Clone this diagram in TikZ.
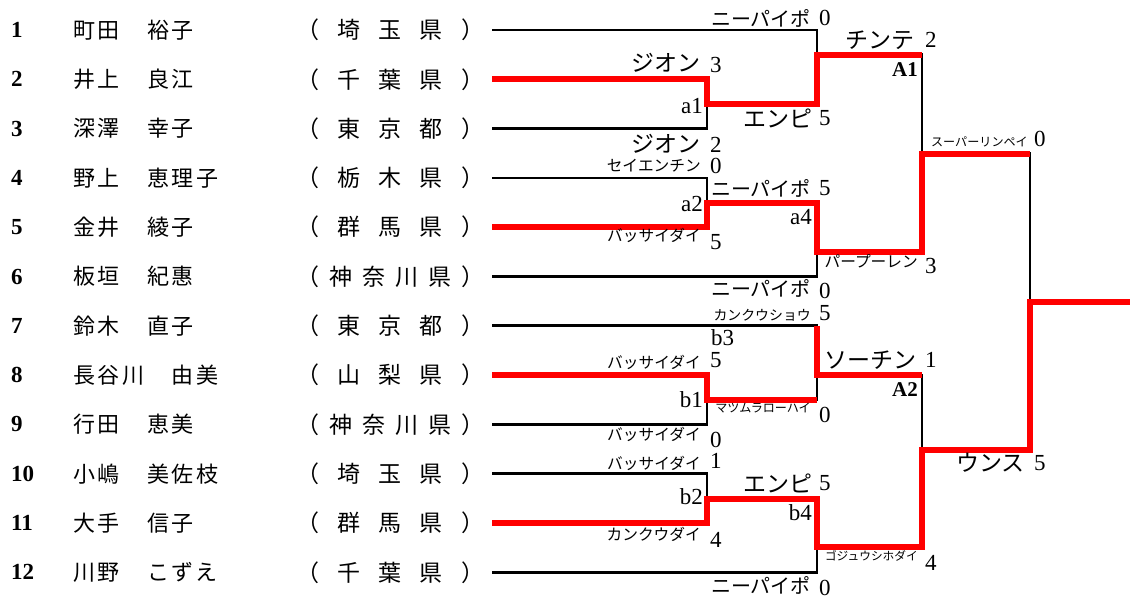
\documentclass[tikz,border=0pt]{standalone}
\usepackage{fontspec}
\setmainfont{Liberation Serif}
\newfontfamily\jp{Noto Sans CJK JP}
\newfontfamily\jpname{Noto Sans CJK JP}[LetterSpace=12]

\begin{document}
\begin{tikzpicture}
  [x=1pt, y=-1pt,
    num/.style={anchor=west, inner sep=0pt,
      font=\fontsize{23}{23}\selectfont\bfseries},
    who/.style={anchor=west, inner sep=0pt,
      font=\jpname\fontsize{22}{22}\selectfont},
    pref/.style={anchor=west, inner sep=0pt,
      font=\jp\fontsize{23}{23}\selectfont},
    team/.style={anchor=east, inner sep=0pt,
      font=\jp\fontsize{#1}{#1}\selectfont},
    team/.default=23,
    score/.style={anchor=west, inner sep=0pt,
      font=\fontsize{23}{23}\selectfont},
    tag/.style={inner sep=0pt, font=\fontsize{23}{23}\selectfont},
    seed/.style={anchor=east, inner sep=0pt,
      font=\fontsize{21}{21}\selectfont\bfseries},
    line/.style={line width=2.8pt},
    win/.style={line width=6pt, red},
  ]
  \useasboundingbox (0,0) rectangle (1130,600);

  % entrants
  \foreach \i/\nm/\pf in {
      1/町田　裕子/埼\hfill 玉\hfill 県,
      2/井上　良江/千\hfill 葉\hfill 県,
      3/深澤　幸子/東\hfill 京\hfill 都,
      4/野上　恵理子/栃\hfill 木\hfill 県,
      5/金井　綾子/群\hfill 馬\hfill 県,
      6/板垣　紀惠/神\hfill 奈\hfill 川\hfill 県,
      7/鈴木　直子/東\hfill 京\hfill 都,
      8/長谷川　由美/山\hfill 梨\hfill 県,
      9/行田　恵美/神\hfill 奈\hfill 川\hfill 県,
      10/小嶋　美佐枝/埼\hfill 玉\hfill 県,
      11/大手　信子/群\hfill 馬\hfill 県,
      12/川野　こずえ/千\hfill 葉\hfill 県} {
    \pgfmathsetmacro\y{30+49.3*(\i-1)}
    \node[num] (n\i) at (11,\y) {\i};
    \node[who] (w\i) at (73,\y) {\nm};
    \node[pref] (p\i) at (296,\y) {\makebox[188pt][s]{（\hfill\pf\hfill ）}};
    \coordinate (s\i) at (492,\y);
  }

  % joints
  \coordinate (a1) at (707,104);
  \coordinate (a2) at (707,202.5);
  \coordinate (b1) at (707,400);
  \coordinate (b2) at (707,498.5);
  \coordinate (q1) at (817,54.5);
  \coordinate (a4) at (817,251.5);
  \coordinate (b3) at (817,375);
  \coordinate (b4) at (817,546.5);
  \coordinate (A1) at (922,153.5);
  \coordinate (A2) at (922,450);
  \coordinate (fin) at (1030,301.5);
  \coordinate (champ) at (1130,301.5);

  % bracket
  \draw[line] (s2) -| (a1) |- (s3);
  \draw[line] (s4) -| (a2) |- (s5);
  \draw[line] (s8) -| (b1) |- (s9);
  \draw[line] (s10) -| (b2) |- (s11);
  \draw[line] (s1) -| (q1) |- (a1);
  \draw[line] (a2) -| (a4) |- (s6);
  \draw[line] (s7) -| (b3) |- (b1);
  \draw[line] (b2) -| (b4) |- (s12);
  \draw[line] (q1) -| (A1) |- (a4);
  \draw[line] (b3) -| (A2) |- (b4);
  \draw[line] (A1) -| (fin) |- (A2);

  % winners
  \draw[win] (s2) -| (a1) -| (q1) -- (q1 -| A1);
  \draw[win] (s5) -| (a2) -| (a4) -| (A1) -- (A1 -| fin);
  \draw[win] (s8) -| (b1) -- (b1 -| b3);
  \draw[win] (s7 -| b3) -- (b3) -- (b3 -| A2);
  \draw[win] (s11) -| (b2) -| (b4) -| (A2) -| (fin) -- (champ);

  % match tags
  \node[tag, anchor=east] (la1) at (703,106) {a1};
  \node[tag, anchor=east] (la2) at (703,204) {a2};
  \node[tag, anchor=east] (la4) at (812,217) {a4};
  \node[tag, anchor=east] (lb1) at (703,400) {b1};
  \node[tag, anchor=east] (lb2) at (703,497) {b2};
  \node[tag, anchor=west] (lb3) at (711,338) {b3};
  \node[tag, anchor=east] (lb4) at (812,513) {b4};
  \node[seed] (lA1) at (918,70) {A1};
  \node[seed] (lA2) at (918,390) {A2};

  % teams and scores
  \node[team] (t1) at (701,63) {ジオン}; \node[score] (g1) at (710,65) {3};
  \node[team] (t2) at (701,144) {ジオン}; \node[score] (g2) at (710,145) {2};
  \node[team=15.7] (t3) at (701,166) {セイエンチン}; \node[score] (g3) at (710,166) {0};
  \node[team=15.7] (t4) at (701,235) {バッサイダイ}; \node[score] (g4) at (710,242) {5};
  \node[team=15.7] (t5) at (701,362) {バッサイダイ}; \node[score] (g5) at (710,360) {5};
  \node[team=15.7] (t6) at (701,434) {バッサイダイ}; \node[score] (g6) at (710,440) {0};
  \node[team=15.7] (t7) at (701,463) {バッサイダイ}; \node[score] (g7) at (710,461) {1};
  \node[team=15.7] (t8) at (701,534) {カンクウダイ}; \node[score] (g8) at (710,540) {4};

  \node[team=20] (t9) at (811,18) {ニーパイポ}; \node[score] (g9) at (819,18) {0};
  \node[team] (t10) at (813,118) {エンピ}; \node[score] (g10) at (819,118) {5};
  \node[team=20] (t11) at (811,188) {ニーパイポ}; \node[score] (g11) at (819,188) {5};
  \node[team=20] (t12) at (811,288) {ニーパイポ}; \node[score] (g12) at (819,291) {0};
  \node[team=13.9] (t13) at (811,315) {カンクウショウ}; \node[score] (g13) at (819,313) {5};
  \node[team=12.1] (t14) at (811,408) {マツムラローハイ}; \node[score] (g14) at (819,415) {0};
  \node[team] (t15) at (813,483) {エンピ}; \node[score] (g15) at (819,483) {5};
  \node[team=20] (t16) at (811,585) {ニーパイポ}; \node[score] (g16) at (819,588) {0};

  \node[team] (t17) at (915,40) {チンテ}; \node[score] (g17) at (925,40) {2};
  \node[team=15.7] (t18) at (918,261) {パープーレン}; \node[score] (g18) at (925,266) {3};
  \node[team] (t19) at (917,360) {ソーチン}; \node[score] (g19) at (925,360) {1};
  \node[team=11.7] (t20) at (918,556) {ゴジュウシホダイ}; \node[score] (g20) at (925,563) {4};

  \node[team=12.1] (t21) at (1028,142) {スーパーリンペイ}; \node[score] (g21) at (1034,139) {0};
  \node[team] (t22) at (1025,463) {ウンス}; \node[score] (g22) at (1034,463) {5};

\end{tikzpicture}
\end{document}
